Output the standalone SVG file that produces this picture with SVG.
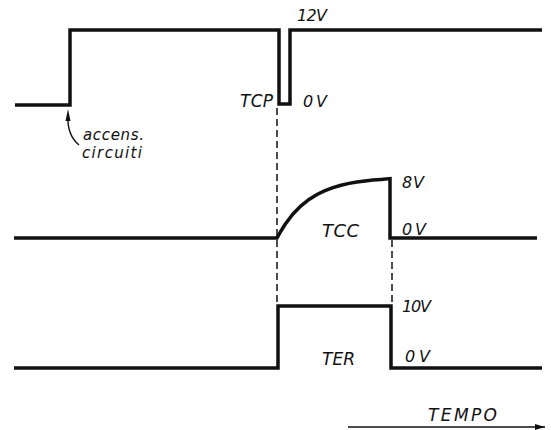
<svg xmlns="http://www.w3.org/2000/svg" width="551" height="430" viewBox="0 0 551 430">
<defs>
<style>
.sig{fill:none;stroke:#111;stroke-width:3.5;stroke-linejoin:miter;stroke-linecap:butt}
.dash{fill:none;stroke:#111;stroke-width:1.5;stroke-dasharray:7,4}
.lbl{font-family:"DejaVu Sans","Liberation Sans",sans-serif;font-style:italic;font-size:16px;fill:#111}
.big{font-size:18px}
.mid{font-size:17px}
.sm{font-size:15px}
.thin{fill:none;stroke:#111;stroke-width:1.4}
</style>
<marker id="ah" viewBox="0 0 10 6" refX="10" refY="3" markerWidth="10" markerHeight="6" markerUnits="userSpaceOnUse" orient="auto">
<path d="M0,0 L10,3 L0,6 Z" fill="#111"/>
</marker>
</defs>
<rect width="551" height="430" fill="#fff"/>
<g id="connectors">
<path class="dash" d="M277,108 V304"/>
<path class="dash" d="M392,240 V304"/>
<path class="thin" d="M79,145 Q67,135 68,116"/>
<path d="M68,109 L65.5,121 L70.5,121 Z" fill="#111"/>
<path class="thin" d="M348,427 H545" marker-end="url(#ah)"/>
</g>
<g id="tcp">
<path class="sig" d="M15,105 H70 V30 H279 V104 H290 V30 H542"/>
<text class="lbl" x="297" y="21" textLength="30">12V</text>
<text class="lbl" x="303" y="107" textLength="24">0V</text>
<text class="lbl mid" x="240" y="107" textLength="33">TCP</text>
</g>
<g id="accens">
<text class="lbl sm" x="83" y="140" textLength="61">accens.</text>
<text class="lbl sm" x="82" y="158" textLength="60">circuiti</text>
</g>
<g id="tcc">
<path class="sig" d="M14,238 H277 L281,231 L285,224.5 L293,214 L301,205.8 L309,199.4 L317,194.5 L325,190.6 L333,187.6 L341,185.2 L349,183.4 L357,182 L365,180.9 L373,180 L381,179.4 L390,178.6 V238 H537"/>
<text class="lbl" x="402" y="188" textLength="22">8V</text>
<text class="lbl" x="402" y="235" textLength="24">0V</text>
<text class="lbl big" x="322" y="237" textLength="37">TCC</text>
</g>
<g id="ter">
<path class="sig" d="M14,368 H278 V306 H391 V368 H542"/>
<text class="lbl" x="402" y="312" textLength="29">10V</text>
<text class="lbl" x="405" y="362" textLength="25">0V</text>
<text class="lbl mid" x="322" y="365" textLength="33">TER</text>
</g>
<g id="tempo">
<text class="lbl mid" x="428" y="421" textLength="69">TEMPO</text>
</g>
</svg>
